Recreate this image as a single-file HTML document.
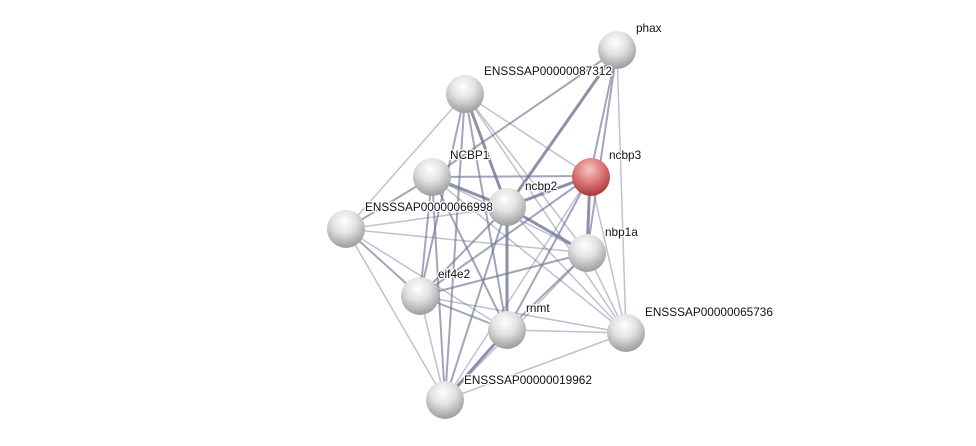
<!DOCTYPE html>
<html><head><meta charset="utf-8"><style>
html,body{margin:0;padding:0;background:#fff;}
svg{display:block;}
text{font-family:"Liberation Sans",sans-serif;font-size:11.8px;fill:#111;paint-order:stroke;stroke:#fff;stroke-width:2.5px;stroke-linejoin:round;}
</style></head><body>
<svg width="976" height="446" viewBox="0 0 976 446" xmlns="http://www.w3.org/2000/svg">
<defs>
<radialGradient id="g" cx="45%" cy="30%" r="70%">
<stop offset="0" stop-color="#ffffff"/><stop offset="0.45" stop-color="#e2e2e2"/><stop offset="1" stop-color="#9c9c9c"/>
</radialGradient>
<radialGradient id="r" cx="45%" cy="30%" r="70%">
<stop offset="0" stop-color="#f7c4c4"/><stop offset="0.5" stop-color="#de7a7a"/><stop offset="1" stop-color="#a83838"/>
</radialGradient>
</defs>
<g stroke="#6f7595" stroke-linecap="round" fill="none">
<g stroke-opacity="0.45" stroke-width="1.5">
<line x1="465" y1="94" x2="346" y2="229"/><line x1="465" y1="94" x2="590" y2="176"/>
<line x1="465" y1="94" x2="587" y2="253"/><line x1="465" y1="94" x2="626" y2="333"/>
<line x1="346" y1="229" x2="445" y2="400"/><line x1="626" y1="333" x2="445" y2="400"/>
<line x1="617" y1="50" x2="626" y2="333"/><line x1="590" y1="176" x2="626" y2="333"/>
<line x1="432" y1="177" x2="626" y2="333"/><line x1="346" y1="229" x2="587" y2="253"/>
<line x1="346" y1="229" x2="507" y2="330"/><line x1="420" y1="296" x2="626" y2="333"/>
<line x1="507" y1="330" x2="626" y2="333"/><line x1="587" y1="253" x2="445" y2="400"/>
<line x1="590" y1="176" x2="445" y2="400"/><line x1="346" y1="229" x2="507" y2="207"/>
<line x1="432" y1="177" x2="587" y2="253"/><line x1="507" y1="207" x2="626" y2="333"/>
<line x1="587" y1="253" x2="626" y2="333"/><line x1="420" y1="296" x2="445" y2="400"/>
</g>
<g stroke-opacity="0.65" stroke-width="2">
<line x1="617" y1="50" x2="432" y2="177"/><line x1="617" y1="50" x2="590" y2="176"/>
<line x1="617" y1="50" x2="587" y2="253"/><line x1="465" y1="94" x2="420" y2="296"/>
<line x1="465" y1="94" x2="507" y2="330"/><line x1="432" y1="177" x2="590" y2="176"/>
<line x1="432" y1="177" x2="346" y2="229"/><line x1="432" y1="177" x2="420" y2="296"/>
<line x1="432" y1="177" x2="507" y2="330"/><line x1="432" y1="177" x2="445" y2="400"/>
<line x1="590" y1="176" x2="507" y2="330"/><line x1="590" y1="176" x2="420" y2="296"/>
<line x1="507" y1="207" x2="420" y2="296"/><line x1="507" y1="207" x2="445" y2="400"/>
<line x1="346" y1="229" x2="420" y2="296"/><line x1="587" y1="253" x2="420" y2="296"/>
<line x1="420" y1="296" x2="507" y2="330"/><line x1="587" y1="253" x2="507" y2="330"/>
<line x1="465" y1="94" x2="445" y2="400"/>
</g>
<g stroke-opacity="0.8" stroke-width="3">
<line x1="617" y1="50" x2="507" y2="207"/><line x1="465" y1="94" x2="507" y2="207"/>
<line x1="432" y1="177" x2="507" y2="207"/><line x1="590" y1="176" x2="507" y2="207"/>
<line x1="590" y1="176" x2="587" y2="253"/><line x1="507" y1="207" x2="587" y2="253"/>
<line x1="507" y1="207" x2="507" y2="330"/><line x1="507" y1="330" x2="445" y2="400"/>
</g>
</g>
<g>
<circle cx="617" cy="50" r="19" fill="url(#g)"/>
<circle cx="465" cy="94" r="19" fill="url(#g)"/>
<circle cx="432" cy="177" r="19" fill="url(#g)"/>
<circle cx="591" cy="177" r="19" fill="url(#r)"/>
<circle cx="507" cy="207" r="19" fill="url(#g)"/>
<circle cx="346" cy="229" r="19" fill="url(#g)"/>
<circle cx="587" cy="253" r="19" fill="url(#g)"/>
<circle cx="420" cy="296" r="19" fill="url(#g)"/>
<circle cx="507" cy="330" r="19" fill="url(#g)"/>
<circle cx="626" cy="333" r="19" fill="url(#g)"/>
<circle cx="445" cy="400" r="19" fill="url(#g)"/>
</g>
<g>
<text x="636" y="32">phax</text>
<text x="484" y="75">ENSSSAP00000087312</text>
<text x="450" y="159">NCBP1</text>
<text x="609" y="159">ncbp3</text>
<text x="525" y="190">ncbp2</text>
<text x="365" y="211">ENSSSAP00000066998</text>
<text x="605" y="236">nbp1a</text>
<text x="438" y="278">eif4e2</text>
<text x="526" y="312">rnmt</text>
<text x="645" y="316">ENSSSAP00000065736</text>
<text x="464" y="384">ENSSSAP00000019962</text>
</g>
</svg>
</body></html>
